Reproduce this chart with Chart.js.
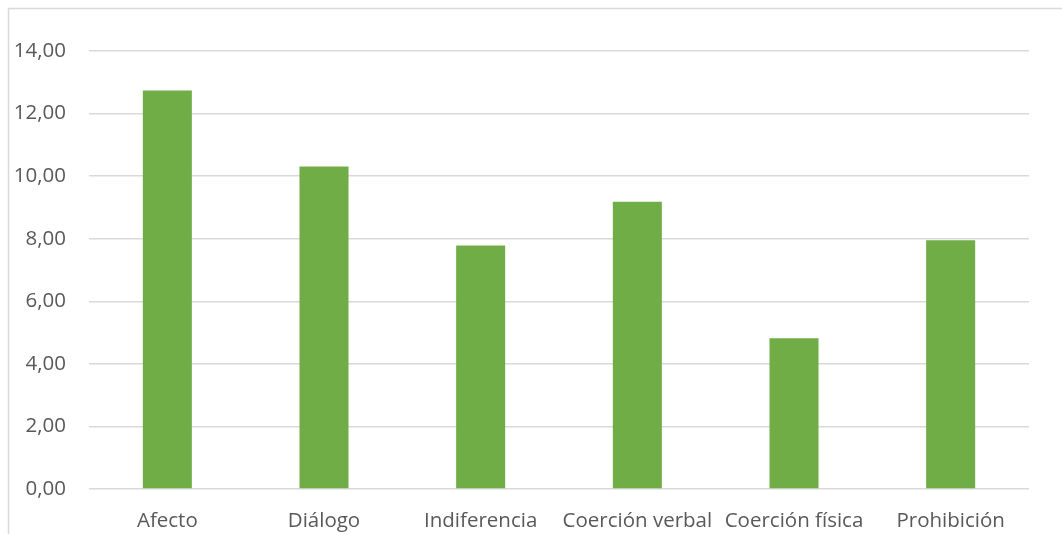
<!DOCTYPE html>
<html>
<head>
<meta charset="utf-8">
<script src="https://cdn.jsdelivr.net/npm/chart.js@4/dist/chart.umd.min.js"></script>
<style>
  html, body { margin: 0; padding: 0; background: #fff; }
  #wrap { width: 1062px; height: 534px; position: relative; }
</style>
</head>
<body>
<div id="wrap"><canvas id="myBarChart" width="1062" height="534"></canvas></div>
<script>
// Dane wykresu
var categories = ["Afecto", "Diálogo", "Indiferencia", "Coerción verbal", "Coerción física", "Prohibición"];
var values = [12.74, 10.31, 7.78, 9.18, 4.82, 7.95];
var yTicks = [0, 2, 4, 6, 8, 10, 12, 14];

var barColor = "#70AD47";
var gridColor = "#D9D9D9";
var textColor = "#595959";

// Ramka wykresu (lewa i górna krawędź widoczna)
var frameBorder = {
  id: "frameBorder",
  beforeDraw: function (chart) {
    var ctx = chart.ctx;
    ctx.save();
    ctx.fillStyle = "#fff";
    ctx.fillRect(0, 0, chart.width, chart.height);
    ctx.strokeStyle = gridColor;
    ctx.lineWidth = 1.5;
    ctx.beginPath();
    ctx.moveTo(8.5, chart.height + 2);
    ctx.lineTo(8.5, 8.5);
    ctx.lineTo(chart.width + 2, 8.5);
    ctx.stroke();
    ctx.restore();
  },
};

function formatComma(v) {
  return v.toFixed(2).replace(".", ",");
}

var ctx = document.getElementById("myBarChart").getContext("2d");
var myBarChart = new Chart(ctx, {
  type: "bar",
  data: {
    labels: categories,
    datasets: [
      {
        data: values,
        backgroundColor: barColor,
        borderWidth: 0,
        categoryPercentage: 1,
        barPercentage: 0.313,
      },
    ],
  },
  options: {
    responsive: false,
    animation: false,
    layout: { padding: { top: 51, right: 33, bottom: 0, left: 0 } },
    plugins: { legend: { display: false }, tooltip: { enabled: false } },
    scales: {
      x: {
        grid: { display: false, drawTicks: false },
        border: { display: false },
        ticks: {
          color: textColor,
          font: { family: "Open Sans", size: 20.5 },
          padding: 20,
          maxRotation: 0,
          autoSkip: false,
        },
        afterFit: function (scale) {
          scale.height = 45;
        },
      },
      y: {
        min: 0,
        max: 14,
        afterBuildTicks: function (scale) {
          scale.ticks = yTicks.map(function (v) { return { value: v }; });
        },
        grid: { color: gridColor, lineWidth: 1.5, drawTicks: false },
        border: { display: false },
        ticks: {
          color: textColor,
          font: { family: "Open Sans", size: 20.5 },
          padding: 23,
          callback: function (v) { return formatComma(v); },
        },
        afterFit: function (scale) {
          scale.width = 89;
        },
      },
    },
  },
  plugins: [frameBorder],
});
</script>
</body>
</html>
